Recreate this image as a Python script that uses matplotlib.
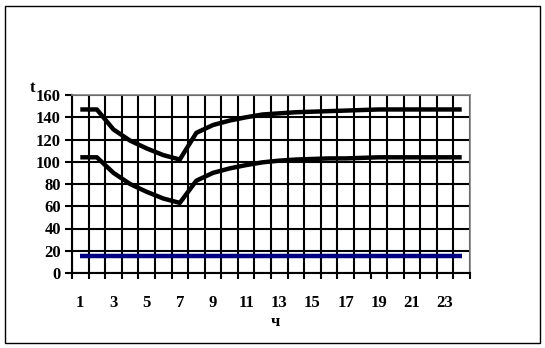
import matplotlib.pyplot as plt
from matplotlib.patches import Rectangle

# hours 1..24
horas = list(range(1, 25))
t_superior = [147, 147, 129, 119, 112, 106, 102, 126, 133, 137, 140, 142.5,
              143.5, 144.5, 145, 145.5, 146, 146.5, 147, 147, 147, 147, 147, 147]
t_inferior = [104, 104, 90, 80, 73, 67, 63, 83, 90, 94, 97, 99.5,
              101, 102, 102.5, 103, 103, 103.5, 104, 104, 104, 104, 104, 104]
t_base = [15] * 24

y_ticks = list(range(0, 161, 20))
x_labels = [str(h) for h in horas[::2]]

fuente = 'Liberation Serif'

fig = plt.figure(figsize=(5.45, 3.48), dpi=100)
ax = fig.add_axes([72 / 545, 1 - 273 / 348, (470 - 72) / 545, (273 - 95) / 348])

ax.plot(horas, t_superior, color='black', lw=3.2, solid_capstyle='butt', zorder=3)
ax.plot(horas, t_inferior, color='black', lw=3.2, solid_capstyle='butt', zorder=3)
ax.plot(horas, t_base, color='#000080', lw=3.2, solid_capstyle='butt', zorder=3)

ax.set_xlim(0.5, 24.5)
ax.set_ylim(0, 160)

# gridlines at category boundaries
ax.set_xticks([h - 0.5 for h in horas] + [24.5], minor=True)
ax.set_xticks(horas[::2])
ax.set_xticklabels(x_labels)
ax.set_yticks(y_ticks)
ax.grid(True, which='minor', axis='x', color='black', lw=1.5)
ax.grid(True, which='major', axis='y', color='black', lw=1.5)
ax.tick_params(axis='x', which='major', length=0, pad=16)
ax.tick_params(axis='x', which='minor', length=4, width=1.5, direction='out')
ax.tick_params(axis='y', length=5, width=1.5, direction='out', pad=3)

for lbl in ax.get_xticklabels() + ax.get_yticklabels():
    lbl.set_fontfamily(fuente)
    lbl.set_fontweight('bold')
    lbl.set_fontsize(12)

ax.spines['left'].set_linewidth(1.5)
ax.spines['bottom'].set_linewidth(1.5)
ax.spines['top'].set_color('#808080')
ax.spines['right'].set_color('#808080')
ax.spines['top'].set_linewidth(1.2)
ax.spines['right'].set_linewidth(1.2)

fig.text(33 / 545, 1 - 88 / 348, 't', family=fuente, weight='bold', fontsize=12,
         ha='center', va='center')
fig.text(275 / 545, 1 - 322 / 348, 'ч', family=fuente, weight='bold', fontsize=12,
         ha='center', va='center')

# marco exterior
fig.patches.append(Rectangle((5 / 545, 5 / 348), 535 / 545, 337 / 348,
                             transform=fig.transFigure, fill=False,
                             edgecolor='black', lw=1))

fig.savefig('out.png', dpi=100)
